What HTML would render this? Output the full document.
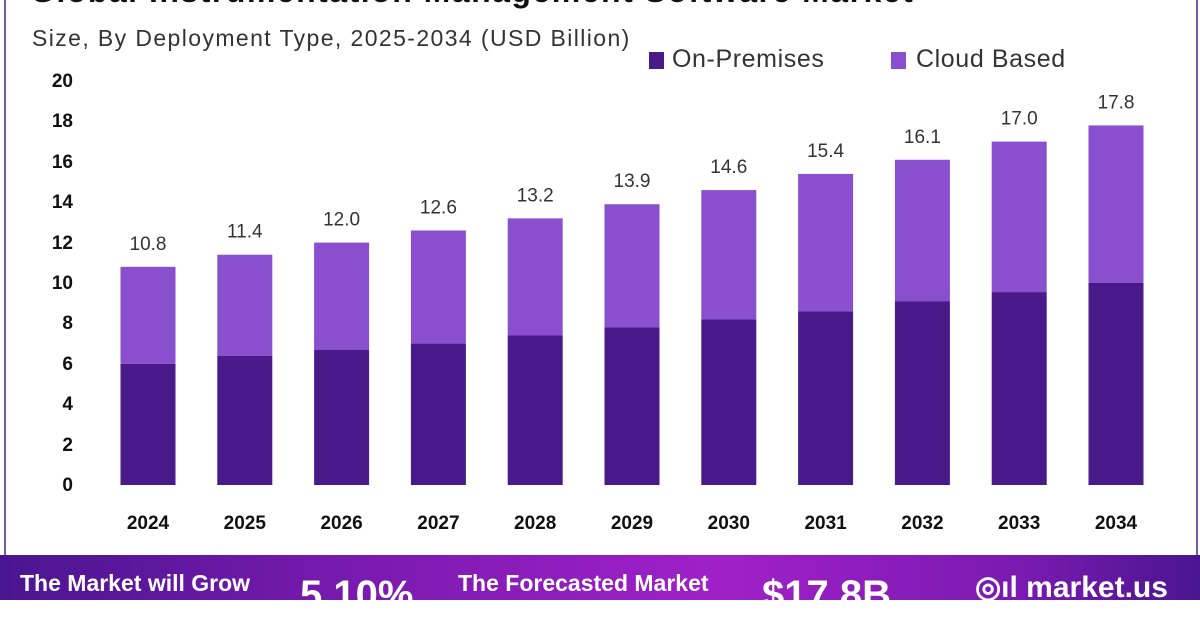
<!DOCTYPE html>
<html><head><style>
body{margin:0;width:1200px;height:600px;overflow:hidden;background:#fff;font-family:"Liberation Sans",sans-serif;position:relative}
.t{position:absolute;white-space:nowrap}
</style></head><body>
<div style="position:absolute;left:4px;top:0;width:1190px;height:556px;border-left:2px solid #7a5aa8;border-right:2px solid #7a5aa8"></div>
<div class="t" style="left:30px;top:-27px;font-size:32px;font-weight:bold;color:#111;letter-spacing:1.5px">Global Instrumentation Management Software Market</div>
<div class="t" style="left:32px;top:25px;font-size:23px;color:#333;letter-spacing:1.4px">Size, By Deployment Type, 2025-2034 (USD Billion)</div>
<div style="position:absolute;left:649px;top:52px;width:15px;height:17px;background:#4a1a8a"></div>
<div class="t" style="left:672px;top:45px;font-size:25px;color:#333;letter-spacing:0.6px">On-Premises</div>
<div style="position:absolute;left:891px;top:52px;width:15px;height:17px;background:#8a4fcf"></div>
<div class="t" style="left:916px;top:45px;font-size:25px;color:#333;letter-spacing:0.6px">Cloud Based</div>
<svg width="1200" height="600" style="position:absolute;left:0;top:0" font-family="Liberation Sans,sans-serif">
<g font-size="19" font-weight="bold" fill="#111" text-anchor="end">
<text x="73" y="491">0</text><text x="73" y="451">2</text><text x="73" y="410">4</text><text x="73" y="370">6</text><text x="73" y="329">8</text><text x="73" y="289">10</text><text x="73" y="249">12</text><text x="73" y="208">14</text><text x="73" y="168">16</text><text x="73" y="127">18</text><text x="73" y="87">20</text>
</g>
<g id="bars"></g>
</svg>
<div style="position:absolute;left:0;top:555px;width:1200px;height:45px;background:linear-gradient(90deg,#4a1590 0%,#7a1ab0 30%,#a020c8 60%,#7a1ab0 85%,#4a1590 100%)"></div>
<div class="t" style="left:20px;top:570px;font-size:23px;font-weight:bold;color:#fff">The Market will Grow</div>
<div class="t" style="left:300px;top:573px;font-size:40px;font-weight:bold;color:#fff">5.10%</div>
<div class="t" style="left:458px;top:570px;font-size:23px;font-weight:bold;color:#fff">The Forecasted Market</div>
<div class="t" style="left:762px;top:573px;font-size:40px;font-weight:bold;color:#fff">$17.8B</div>
<div class="t" style="left:975px;top:570px;font-size:30px;font-weight:bold;color:#fff">◎ıl market.us</div>
<script>
var tot=[10.8,11.4,12.0,12.6,13.2,13.9,14.6,15.4,16.1,17.0,17.8],on=[6.0,6.4,6.7,7.0,7.4,7.8,8.2,8.6,9.1,9.55,10.0];
var g=document.getElementById('bars'),s='';
for(var i=0;i<11;i++){var cx=148+i*96.8,x=cx-27.5,yb=485,k=20.2;
var yt=yb-tot[i]*k,ym=yb-on[i]*k;
s+='<rect x="'+x+'" y="'+yt+'" width="55" height="'+(ym-yt)+'" fill="#8a4fcf"/>';
s+='<rect x="'+x+'" y="'+ym+'" width="55" height="'+(yb-ym)+'" fill="#4a1a8a"/>';
s+='<text x="'+cx+'" y="'+(yt-17)+'" font-size="19" fill="#333" text-anchor="middle">'+tot[i].toFixed(1)+'</text>';
s+='<text x="'+cx+'" y="529" font-size="19" font-weight="bold" fill="#111" text-anchor="middle">'+(2024+i)+'</text>';}
g.innerHTML=s;
</script>
</body></html>
